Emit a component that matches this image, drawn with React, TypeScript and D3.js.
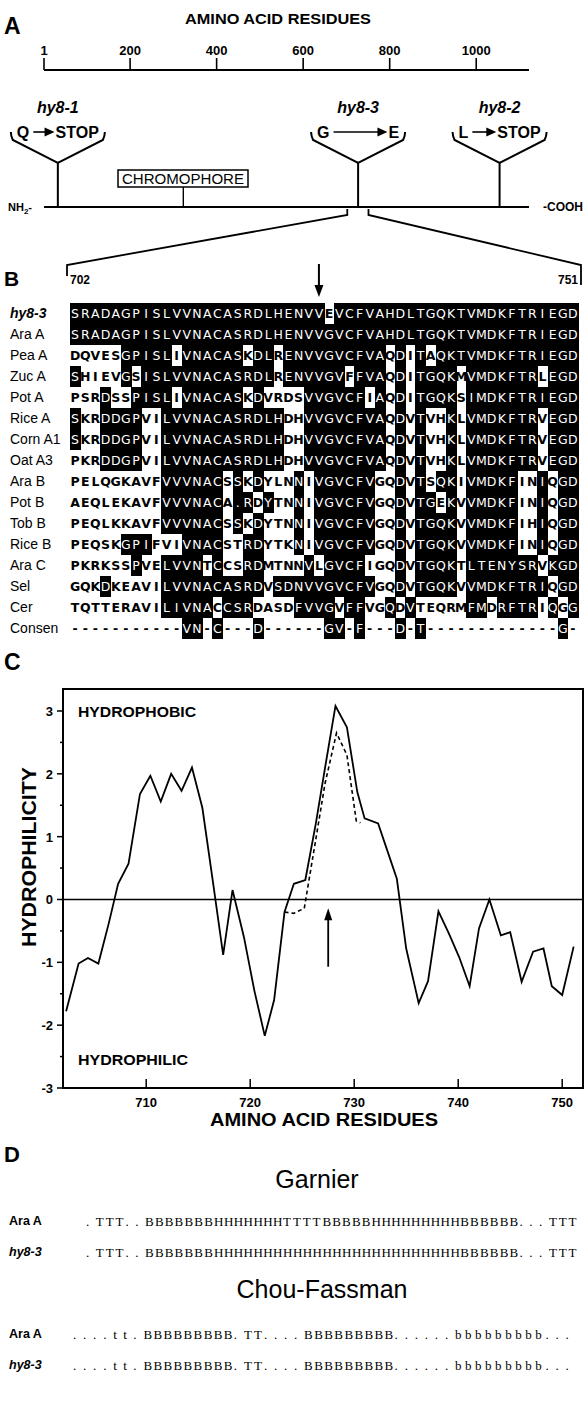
import React, { useEffect, useRef } from "react";
import * as d3 from "d3";

const W = 584;
const H = 1407;
const SANS = "'Liberation Sans', Arial, Helvetica, sans-serif";

// ---- panel A : phytochrome A map ----
const proteinLength = 1122;
const residueTicks = [1, 200, 400, 600, 800, 1000];
const mutationNames = ["hy8-1", "hy8-3", "hy8-2"];
const mutationSites = [33, 727, 1054];
const wildResidues = ["Q", "G", "L"];
const mutantResidues = ["STOP", "E", "STOP"];
const chromophoreSite = 323;
const regionStart = 702;
const regionEnd = 751;

// ---- panel B : alignment 702-751 ----
const seqNames = ["hy8-3", "Ara A", "Pea A", "Zuc A", "Pot A", "Rice A", "Corn A1", "Oat A3",
  "Ara B", "Pot B", "Tob B", "Rice B", "Ara C", "Sel", "Cer"];
const sequences = [
  "SRADAGPISLVVNACASRDLHENVVEVCFVAHDLTGQKTVMDKFTRIEGD",
  "SRADAGPISLVVNACASRDLHENVVGVCFVAHDLTGQKTVMDKFTRIEGD",
  "DQVESGPISLIVNACASKDLRENVVGVCFVAQDITAQKTVMDKFTRIEGD",
  "SHIEVGSISLVVNACASRDLRENVVGVFFVAQDITGQKMVMDKFTRLEGD",
  "PSRDSSPISLIVNACASKDVRDSVVGVCFIAQDITGQKSIMDKFTRIEGD",
  "SKRDDGPVILVVNACASRDLHDHVVGVCFVAQDVTVHKLVMDKFTRVEGD",
  "SKRDDGPVILVVNACASRDLHDHVVGVCFVAQDVTVHKLVMDKFTRVEGD",
  "PKRDDGPVILVVNACASRDLHDHVVGVCFVAQDVTVHKLVMDKFTRVEGD",
  "PELQGKAVFVVVNACSSKDYLNNIVGVCFVGQDVTSQKIVMDKFINIQGD",
  "AEQLEKAVFVVVNACA.RDYTNNIVGVCFVGQDVTGEKVVMDKFINIQGD",
  "PEQLKKAVFVVVNACSSKDYTNNIVGVCFVGQDVTGQKVVMDKFIHIQGD",
  "PEQSKGPIFVIVNACSTRDYTKNIVGVCFVGQDVTGQKVVMDKFINIQGD",
  "PKRKSSPVELVVNTCCSRDMTNNVLGVCFIGQDVTGQKTLTENYSRVKGD",
  "GQKDKEAVILVVNACASRDVSDNVVGVCFVGQDVTGQKVVMDKFTRIQGD",
  "TQTTERAVILIVNACCSRDASDFVVGVFFVGQDVTEQRMFMDRFTRIQGG",
];
// 1 = residue drawn reversed (white on black)
const shading = [
  "11111111111111111111111110111111111111111111111111",
  "11111111111111111111111111111111111111111111111111",
  "00000111110111111011011111111110101011111111111111",
  "10000101111111111111011111101110101111011111110111",
  "00010011110111111010000111111010101111011111111111",
  "10011110011111111111100111111110101001011111110111",
  "10011110011111111111100111111110101001011111110111",
  "00011110011111111111100111111110101001011111110111",
  "00000000011111101010001011111100101011011111001011",
  "00000000011111101101001011111100101101011111001011",
  "00000000011111101010001011111100101111011111001011",
  "00000111000111100110001011111100101111011111001011",
  "00000010011110100110000101111000101111011111110111",
  "00010000011111111110111111111100101111011111111011",
  "00000000011111011100001111011001010000011011110101",
];
const consensus = "-----------VN-C---D------GV-F---D-T-------------G-";

// ---- panel C : hydrophilicity ----
const hydroResidues = [702.3, 703.5, 704.4, 705.4, 706.4, 707.3, 708.3, 709.4, 710.4, 711.4, 712.4,
  713.4, 714.4, 715.4, 716.4, 717.4, 718.3, 719.4, 720.4, 721.4, 722.3, 723.3, 724.2, 725.3, 726.3,
  727.2, 728.2, 729.3, 730.3, 731.0, 732.3, 733.2, 734.1, 735.0, 736.2, 737.1, 738.1, 739.1, 740.1,
  741.1, 742.0, 743.0, 744.1, 745.0, 746.1, 747.2, 748.2, 749.0, 750.0, 751.1];
const hydroAraA = [-1.78, -1.02, -0.93, -1.02, -0.38, 0.25, 0.57, 1.68, 1.97, 1.56, 2.0,
  1.73, 2.1, 1.46, 0.3, -0.88, 0.15, -0.6, -1.45, -2.17, -1.6, -0.2, 0.25, 0.31, 1.2,
  2.1, 3.08, 2.74, 1.71, 1.29, 1.21, 0.77, 0.33, -0.78, -1.65, -1.3, -0.19, -0.54, -0.92,
  -1.38, -0.46, 0.0, -0.57, -0.52, -1.31, -0.83, -0.78, -1.38, -1.52, -0.75];
const mutResidues = [723.3, 724.2, 725.2, 726.2, 727.2, 728.3, 729.3, 730.2, 730.6];
const hydroHy83 = [-0.2, -0.22, -0.14, 0.85, 1.85, 2.65, 2.3, 1.25, 1.22];
const hydroMajor = [-3, -2, -1, 0, 1, 2, 3];
const hydroMinor = [-2.5, -1.5, -0.5, 0.5, 1.5, 2.5];
const residueAxisTicks = [710, 720, 730, 740, 750];

// ---- panel D : secondary structure predictions ----
const predictionNames = ["Ara A", "hy8-3"];
const garnier = [
  ".TTT..BBBBBBBHHHHHHHTTTTBBBBBHHHHHHHHHBBBBBB...TTT",
  ".TTT..BBBBBBBHHHHHHHHHHHHHHHHHHHHHHHHHBBBBBB...TTT",
];
const chouFasman = [
  "....tt.BBBBBBBBB.TT....BBBBBBBBB......bbbbbbbbb...",
  "....tt.BBBBBBBBB.TT....BBBBBBBBB......bbbbbbbbb...",
];

function drawPanelA(svg) {
  const g = svg.append("g").attr("font-family", SANS);
  const a = d3.scaleLinear().domain([1, proteinLength]).range([44, 529]);

  g.append("text").attr("x", 4).attr("y", 34).attr("font-size", 23).attr("font-weight", "bold").text("A");
  g.append("text").attr("x", 278).attr("y", 24).attr("text-anchor", "middle")
    .attr("font-size", 15).attr("font-weight", "bold")
    .attr("textLength", 186).attr("lengthAdjust", "spacingAndGlyphs").text("AMINO ACID RESIDUES");

  g.append("line").attr("x1", a(1)).attr("x2", a(proteinLength)).attr("y1", 70).attr("y2", 70)
    .attr("stroke", "#000").attr("stroke-width", 2);
  residueTicks.forEach(t => {
    g.append("line").attr("x1", a(t)).attr("x2", a(t)).attr("y1", 58).attr("y2", 70)
      .attr("stroke", "#000").attr("stroke-width", 1.6);
    g.append("text").attr("x", a(t)).attr("y", 55).attr("text-anchor", "middle")
      .attr("font-size", 13).attr("font-weight", "bold").text(t);
  });

  // protein backbone
  const py = 207;
  g.append("line").attr("x1", a(1)).attr("x2", a(proteinLength)).attr("y1", py).attr("y2", py)
    .attr("stroke", "#000").attr("stroke-width", 2);
  const nh = g.append("text").attr("x", 8).attr("y", py + 4).attr("font-size", 11).attr("font-weight", "bold");
  nh.append("tspan").text("NH");
  nh.append("tspan").attr("font-size", 8).attr("dy", 3).text("2");
  nh.append("tspan").attr("dy", -3).text("-");
  g.append("text").attr("x", 583).attr("y", py + 4).attr("text-anchor", "end")
    .attr("font-size", 12).attr("font-weight", "bold").text("-COOH");

  // chromophore
  const cx = a(chromophoreSite);
  g.append("line").attr("x1", cx).attr("x2", cx).attr("y1", 187).attr("y2", py).attr("stroke", "#000").attr("stroke-width", 1.4);
  g.append("rect").attr("x", 118).attr("y", 170).attr("width", 130).attr("height", 17)
    .attr("fill", "#fff").attr("stroke", "#000").attr("stroke-width", 1.5);
  g.append("text").attr("x", 183).attr("y", 184).attr("text-anchor", "middle")
    .attr("font-size", 14).attr("textLength", 122).attr("lengthAdjust", "spacingAndGlyphs").text("CHROMOPHORE");

  // mutation sites
  mutationNames.forEach((name, i) => {
    const x = a(mutationSites[i]);
    g.append("text").attr("x", x).attr("y", 113).attr("text-anchor", "middle")
      .attr("font-size", 16).attr("font-weight", "bold").attr("font-style", "italic").text(name);
    g.append("path")
      .attr("d", `M${x - 47},132 Q${x - 47},136 ${x - 45},140 L${x},163 L${x + 45},140 Q${x + 47},136 ${x + 47},132`)
      .attr("fill", "none").attr("stroke", "#000").attr("stroke-width", 2);
    g.append("line").attr("x1", x).attr("x2", x).attr("y1", 163).attr("y2", py).attr("stroke", "#000").attr("stroke-width", 2);
    const left = g.append("text").attr("x", x - 41).attr("y", 138).attr("font-size", 16).attr("font-weight", "bold").text(wildResidues[i]);
    const right = g.append("text").attr("x", x + 41).attr("y", 138).attr("text-anchor", "end")
      .attr("font-size", 16).attr("font-weight", "bold").text(mutantResidues[i]);
    const lw = left.node().getComputedTextLength();
    const rw = right.node().getComputedTextLength();
    const x1 = x - 41 + lw + 4;
    const x2 = x + 41 - rw - 1;
    g.append("line").attr("x1", x1).attr("x2", x2 - 8).attr("y1", 132).attr("y2", 132).attr("stroke", "#000").attr("stroke-width", 1.6);
    g.append("path").attr("d", `M${x2 - 10},127.5 L${x2},132 L${x2 - 10},136.5 Z`).attr("fill", "#000");
  });

  // zoom lines to panel B
  const l = a(regionStart);
  const r = a(regionEnd);
  g.append("path").attr("d", `M${l},${py + 2} L${l},215 L67,265 L67,276`).attr("fill", "none").attr("stroke", "#000").attr("stroke-width", 1.8);
  g.append("path").attr("d", `M${r},${py + 2} L${r},215 L581,265 L581,285`).attr("fill", "none").attr("stroke", "#000").attr("stroke-width", 1.8);
  g.append("text").attr("x", 70).attr("y", 284).attr("font-size", 12).attr("font-weight", "bold").text(regionStart);
  g.append("text").attr("x", 578).attr("y", 284).attr("text-anchor", "end").attr("font-size", 12).attr("font-weight", "bold").text(regionEnd);
}

function drawPanelB(svg) {
  const g = svg.append("g").attr("font-family", SANS);
  const x0 = 70;
  const colW = 10.16;
  const col = d3.scaleLinear().domain([0, 50]).range([x0, x0 + 50 * colW]);
  const row = d3.scaleLinear().domain([0, 14]).range([313, 607]);
  const half = (row(1) - row(0)) / 2;

  g.append("text").attr("x", 4).attr("y", 286).attr("font-size", 21).attr("font-weight", "bold").text("B");

  // arrow at mutated column
  const ax = col(mutationSites[1] - regionStart - 1 + 0.5);
  g.append("line").attr("x1", ax).attr("x2", ax).attr("y1", 264).attr("y2", 287).attr("stroke", "#000").attr("stroke-width", 2);
  g.append("path").attr("d", `M${ax - 4.5},285 L${ax},297 L${ax + 4.5},285 Z`).attr("fill", "#000");

  const rows = sequences.map((s, i) => ({ name: seqNames[i], seq: s, mask: shading[i] }));
  rows.push({ name: "Consen", seq: consensus, mask: consensus.split("").map(c => (c === "-" ? "0" : "1")).join("") });

  rows.forEach((d, i) => {
    const cy = row(i);
    g.append("text").attr("x", 10).attr("y", cy + 5).attr("font-size", 14)
      .attr("font-style", d.name === "hy8-3" ? "italic" : "normal")
      .attr("font-weight", d.name === "hy8-3" ? "bold" : "normal")
      .text(d.name);
    const cells = g.append("g");
    d.seq.split("").forEach((ch, j) => {
      const on = d.mask[j] === "1";
      if (on) {
        cells.append("rect").attr("x", col(j)).attr("y", cy - half).attr("width", colW + 0.6).attr("height", half * 2 + 0.6)
          .attr("fill", "#000").attr("shape-rendering", "crispEdges");
      }
    });
    d.seq.split("").forEach((ch, j) => {
      const on = d.mask[j] === "1";
      g.append("text").attr("x", col(j + 0.5)).attr("y", cy + 5).attr("text-anchor", "middle")
        .attr("font-family", "'DejaVu Sans', sans-serif")
        .attr("font-size", 12.5).attr("font-weight", on ? "normal" : "bold")
        .attr("fill", on ? "#fff" : "#000").text(ch);
    });
  });
}

function drawPanelC(svg) {
  const g = svg.append("g").attr("font-family", SANS);
  const x = d3.scaleLinear().domain([702, 752]).range([63, 583]);
  const y = d3.scaleLinear().domain([-3, 3.35]).range([1088, 689]);

  g.append("text").attr("x", 4).attr("y", 670).attr("font-size", 23).attr("font-weight", "bold").text("C");

  g.append("rect").attr("x", x(702)).attr("y", y(3.35)).attr("width", x(752) - x(702)).attr("height", y(-3) - y(3.35))
    .attr("fill", "none").attr("stroke", "#000").attr("stroke-width", 2);
  g.append("line").attr("x1", x(702)).attr("x2", x(752)).attr("y1", y(0)).attr("y2", y(0)).attr("stroke", "#000").attr("stroke-width", 1.6);

  hydroMajor.forEach(v => {
    g.append("line").attr("x1", x(702) - 6).attr("x2", x(702)).attr("y1", y(v)).attr("y2", y(v)).attr("stroke", "#000").attr("stroke-width", 1.5);
    g.append("text").attr("x", x(702) - 10).attr("y", y(v) + 5).attr("text-anchor", "end")
      .attr("font-size", 13).attr("font-weight", "bold").text(v);
  });
  hydroMinor.forEach(v => {
    g.append("line").attr("x1", x(702) - 3).attr("x2", x(702)).attr("y1", y(v)).attr("y2", y(v)).attr("stroke", "#000").attr("stroke-width", 1.5);
  });
  residueAxisTicks.forEach(t => {
    g.append("line").attr("x1", x(t)).attr("x2", x(t)).attr("y1", y(-3)).attr("y2", y(-3) - 9).attr("stroke", "#000").attr("stroke-width", 1.5);
    g.append("text").attr("x", x(t)).attr("y", 1107).attr("text-anchor", "middle")
      .attr("font-size", 13).attr("font-weight", "bold").text(t);
  });

  g.append("text").attr("x", 324).attr("y", 1126).attr("text-anchor", "middle")
    .attr("font-size", 18).attr("font-weight", "bold")
    .attr("textLength", 228).attr("lengthAdjust", "spacingAndGlyphs").text("AMINO ACID RESIDUES");
  g.append("text").attr("transform", "translate(36,857) rotate(-90)").attr("text-anchor", "middle")
    .attr("font-size", 20).attr("font-weight", "bold")
    .attr("textLength", 180).attr("lengthAdjust", "spacingAndGlyphs").text("HYDROPHILICITY");
  g.append("text").attr("x", 78).attr("y", 717).attr("font-size", 14).attr("font-weight", "bold")
    .attr("textLength", 118).attr("lengthAdjust", "spacingAndGlyphs").text("HYDROPHOBIC");
  g.append("text").attr("x", 78).attr("y", 1065).attr("font-size", 14).attr("font-weight", "bold")
    .attr("textLength", 110).attr("lengthAdjust", "spacingAndGlyphs").text("HYDROPHILIC");

  const line = d3.line().x(d => x(d[0])).y(d => y(d[1]));
  g.append("path").attr("d", line(hydroResidues.map((r, i) => [r, hydroAraA[i]])))
    .attr("fill", "none").attr("stroke", "#000").attr("stroke-width", 1.8).attr("stroke-linejoin", "miter");
  g.append("path").attr("d", line(mutResidues.map((r, i) => [r, hydroHy83[i]])))
    .attr("fill", "none").attr("stroke", "#000").attr("stroke-width", 1.6).attr("stroke-dasharray", "4,3");

  // arrow at the hy8-3 site
  const ax = x(mutationSites[1] + 0.5);
  g.append("line").attr("x1", ax).attr("x2", ax).attr("y1", y(-1.07)).attr("y2", y(-0.3)).attr("stroke", "#000").attr("stroke-width", 1.8);
  g.append("path").attr("d", `M${ax - 4},${y(-0.3) + 2} L${ax},${y(-0.14)} L${ax + 4},${y(-0.3) + 2} Z`).attr("fill", "#000");
}

function drawPanelD(svg) {
  const g = svg.append("g").attr("font-family", SANS);
  g.append("text").attr("x", 4).attr("y", 1162).attr("font-size", 22).attr("font-weight", "bold").text("D");

  const block = (title, titleX, titleY, strings, rowYs, startX, pitch) => {
    g.append("text").attr("x", titleX).attr("y", titleY).attr("text-anchor", "middle").attr("font-size", 25).text(title);
    strings.forEach((s, i) => {
      const name = predictionNames[i];
      g.append("text").attr("x", 9).attr("y", rowYs[i]).attr("font-size", 12.5).attr("font-weight", "bold")
        .attr("font-style", name === "hy8-3" ? "italic" : "normal").text(name);
      const xs = s.split("").map((c, k) => (startX + k * pitch).toFixed(1)).join(" ");
      g.append("text").attr("x", xs).attr("y", rowYs[i] + 1).attr("font-family", "'Liberation Serif', serif")
        .attr("font-size", 13).text(s);
    });
  };
  block("Garnier", 317, 1188, garnier, [1225, 1256], 86, 9.85);
  block("Chou-Fassman", 322, 1298, chouFasman, [1338, 1369], 73, 10.05);
}

export default function App() {
  const ref = useRef(null);
  useEffect(() => {
    const svg = d3.select(ref.current);
    svg.selectAll("*").remove();
    drawPanelA(svg);
    drawPanelB(svg);
    drawPanelC(svg);
    drawPanelD(svg);
  }, []);
  return (
    <svg ref={ref} width={W} height={H}
      style={{ position: "absolute", left: 0, top: 0, background: "#fff" }} />
  );
}
